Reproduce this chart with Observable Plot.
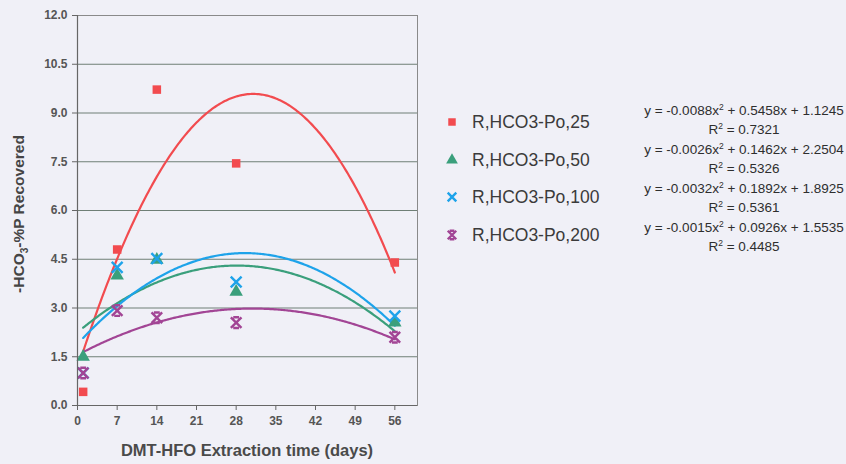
<!DOCTYPE html>
<html>
<head>
<meta charset="utf-8">
<script src="https://cdn.jsdelivr.net/npm/d3@7"></script>
<script src="https://cdn.jsdelivr.net/npm/@observablehq/plot@0.6"></script>
<style>
  html, body { margin: 0; padding: 0; background: #f0f0f7; }
  #chart svg { display: block; }
</style>
</head>
<body>
<div id="chart"></div>
<script>
// ---- data ----
const days = [1, 7, 14, 28, 56];
const seriesNames = ["R,HCO3-Po,25", "R,HCO3-Po,50", "R,HCO3-Po,100", "R,HCO3-Po,200"];
const po25 = [0.42, 4.8, 9.72, 7.45, 4.4];
const po50 = [1.5, 4.0, 4.48, 3.5, 2.55];
const po100 = [1.0, 4.25, 4.52, 3.8, 2.75];
const po200 = [1.0, 2.92, 2.7, 2.55, 2.1];
// trendline coefficients (a, b, c) for y = a x^2 + b x + c, as printed on the chart
const coef25 = [-0.0088, 0.5458, 1.1245];
const coef50 = [-0.0026, 0.1462, 2.2504];
const coef100 = [-0.0032, 0.1892, 1.8925];
const coef200 = [-0.0015, 0.0926, 1.5535];
// equation labels: [x² coefficient text, rest], and R² values
const eqParts = [
  ["y = -0.0088x", " + 0.5458x + 1.1245", "0.7321"],
  ["y = -0.0026x", " + 0.1462x + 2.2504", "0.5326"],
  ["y = -0.0032x", " + 0.1892x + 1.8925", "0.5361"],
  ["y = -0.0015x", " + 0.0926x + 1.5535", "0.4485"]
];
const xTicks = [0, 7, 14, 21, 28, 35, 42, 49, 56];
const yTicks = [0, 1.5, 3, 4.5, 6, 7.5, 9, 10.5, 12];

const colors = ["#f24b4f", "#3a9f7c", "#1ea3ea", "#a24595"];
const values = [po25, po50, po100, po200];
const coefs = [coef25, coef50, coef100, coef200];

// custom star symbol: X with short top and bottom bars
const starSymbol = {
  draw(context, size) {
    const r = Math.sqrt(size) * 0.6;
    context.moveTo(-r, -r); context.lineTo(r, r);
    context.moveTo(r, -r); context.lineTo(-r, r);
    context.moveTo(-r * 0.55, -r); context.lineTo(r * 0.55, -r);
    context.moveTo(-r * 0.55, r); context.lineTo(r * 0.55, r);
  }
};

const points = [];
seriesNames.forEach((s, i) => days.forEach((d, j) => points.push({series: s, i, day: d, value: values[i][j]})));

const curves = [];
const samples = d3.range(1, 56.0001, 0.25);
seriesNames.forEach((s, i) => {
  const [a, b, c] = coefs[i];
  samples.forEach(x => curves.push({series: s, i, day: x, value: a * x * x + b * x + c}));
});

const byIdx = i => points.filter(p => p.i === i);

const plot = Plot.plot({
  width: 846,
  height: 464,
  marginLeft: 77,
  marginRight: 429,
  marginTop: 15,
  marginBottom: 59,
  style: {background: "#f0f0f7", fontFamily: "Liberation Sans, Arial, sans-serif"},
  x: {domain: [0, 60]},
  y: {domain: [0, 12]},
  marks: [
    Plot.gridY(yTicks, {stroke: "#6f7f76", strokeOpacity: 1, strokeWidth: 1}),
    Plot.line(curves, {x: "day", y: "value", z: "series", stroke: d => colors[d.i], strokeWidth: 2.2}),
    Plot.dot(byIdx(0), {x: "day", y: "value", symbol: "square", r: 4.8, fill: colors[0]}),
    Plot.dot(byIdx(1), {x: "day", y: "value", symbol: "triangle", r: 5, fill: colors[1]}),
    Plot.dot(byIdx(2), {x: "day", y: "value", symbol: "times", r: 5, stroke: colors[2], strokeWidth: 2.4}),
    Plot.dot(byIdx(3), {x: "day", y: "value", symbol: starSymbol, r: 5, stroke: colors[3], strokeWidth: 2.4}),
    Plot.frame({stroke: "#8a8a8a", strokeWidth: 1}),
    Plot.ruleX([0], {stroke: "#666", strokeWidth: 1.2}),
    Plot.ruleY([0], {stroke: "#666", strokeWidth: 1.2}),
    Plot.axisX(xTicks, {tickSize: 5, tickPadding: 6, fontSize: 12, fontWeight: "bold", fill: "#555", stroke: "#666", label: null}),
    Plot.axisY(yTicks, {tickSize: 5, tickPadding: 5, fontSize: 12, fontWeight: "bold", fill: "#555", stroke: "#666", tickFormat: d3.format(".1f"), label: null})
  ]
});

document.getElementById("chart").appendChild(plot);

// ---- labels and legend ----
const svg = d3.select(plot);
const font = "Liberation Sans, Arial, sans-serif";

svg.append("text")
  .attr("x", 247).attr("y", 456)
  .attr("text-anchor", "middle")
  .attr("font-family", font).attr("font-size", 16.5).attr("font-weight", "bold")
  .attr("fill", "#4a4a4a")
  .text("DMT-HFO Extraction time (days)");

const yl = svg.append("text")
  .attr("transform", "translate(24,214) rotate(-90)")
  .attr("text-anchor", "middle")
  .attr("font-family", font).attr("font-size", 15.5).attr("font-weight", "bold")
  .attr("fill", "#454545");
yl.append("tspan").text("-HCO");
yl.append("tspan").attr("font-size", 10).attr("dy", 4).text("3");
yl.append("tspan").attr("dy", -4).text("-%P Recovered");

const legendY = [122, 160, 197, 235];
const symbols = [d3.symbolSquare, d3.symbolTriangle, d3.symbolTimes, starSymbol];
seriesNames.forEach((s, i) => {
  const g = svg.append("g").attr("transform", `translate(452,${legendY[i]})`);
  const path = d3.symbol(symbols[i], i === 0 ? 56 : (i === 1 ? 60 : 50))();
  if (i < 2) g.append("path").attr("d", path).attr("fill", colors[i]);
  else g.append("path").attr("d", path).attr("fill", "none").attr("stroke", colors[i]).attr("stroke-width", 2.4);
  svg.append("text")
    .attr("x", 472).attr("y", legendY[i] + 5.5)
    .attr("text-anchor", "start")
    .attr("font-family", font).attr("font-size", 17.5)
    .attr("fill", "#3b3b3b")
    .text(s);
});

const eqY = [115, 154, 193, 232];
eqParts.forEach((p, k) => {
  const t = svg.append("text")
    .attr("x", 744).attr("y", eqY[k])
    .attr("text-anchor", "middle")
    .attr("font-family", font).attr("font-size", 13.5)
    .attr("fill", "#2e2e2e");
  t.append("tspan").text(p[0]);
  t.append("tspan").attr("font-size", 8.5).attr("dy", -5).text("2");
  t.append("tspan").attr("dy", 5).text(p[1]);
  const r = svg.append("text")
    .attr("x", 744).attr("y", eqY[k] + 19)
    .attr("text-anchor", "middle")
    .attr("font-family", font).attr("font-size", 13.5)
    .attr("fill", "#2e2e2e");
  r.append("tspan").text("R");
  r.append("tspan").attr("font-size", 8.5).attr("dy", -5).text("2");
  r.append("tspan").attr("dy", 5).text(" = " + p[2]);
});
</script>
</body>
</html>
